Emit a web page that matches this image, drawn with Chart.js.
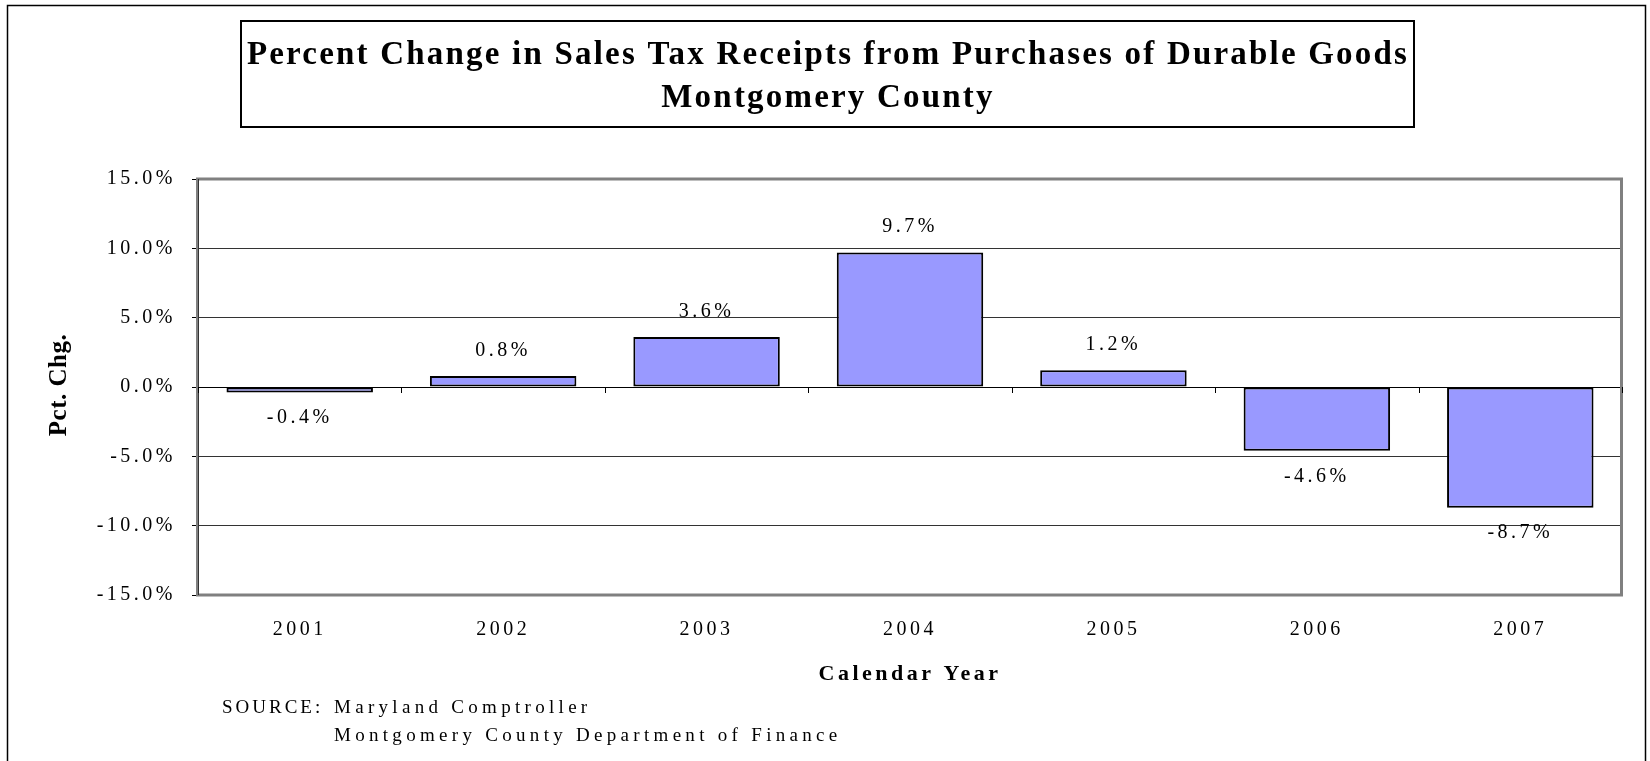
<!DOCTYPE html>
<html><head><meta charset="utf-8">
<script src="https://cdn.jsdelivr.net/npm/chart.js@4.4.1/dist/chart.umd.min.js"></script>
<style>html,body{margin:0;padding:0;background:#fff;overflow:hidden}#wrap{width:1650px;height:761px;position:relative}</style>
</head><body><div id="wrap"><canvas id="c" width="1650" height="761"></canvas></div>
<script>
// ---- data ----
const categories = ['2001', '2002', '2003', '2004', '2005', '2006', '2007'];
const pctChange = [-0.4, 0.8, 3.6, 9.7, 1.2, -4.6, -8.7];
const yTickValues = [-15, -10, -5, 0, 5, 10, 15];
const titleLines = ['Percent Change in Sales Tax Receipts from Purchases of Durable Goods', 'Montgomery County'];
const xTitle = 'Calendar Year';
const yTitle = 'Pct. Chg.';
const sourceLabel = 'SOURCE:';
const sourceLines = ['Maryland Comptroller', 'Montgomery County Department of Finance'];

const FONT = "'Liberation Serif','Times New Roman',Times,serif";
const fmtPct = v => v.toFixed(1) + '%';

const decor = {
  id: 'decor',
  beforeDraw(chart) { chart.ctx.letterSpacing = '3.5px'; },
  afterDatasetsDraw(chart) {
    const ctx = chart.ctx;
    const meta = chart.getDatasetMeta(0);
    ctx.save();
    ctx.font = '20px ' + FONT;
    ctx.fillStyle = '#000';
    ctx.textAlign = 'center';
    ctx.textBaseline = 'middle';
    ctx.letterSpacing = '3.5px';
    meta.data.forEach((el, i) => {
      const v = pctChange[i];
      const y = v >= 0 ? el.y - 25.5 : el.y + 25.5;
      ctx.fillText(fmtPct(v), el.x, y);
    });
    ctx.restore();
  },
  afterDraw(chart) {
    const ctx = chart.ctx;
    const ca = chart.chartArea;
    const xs = chart.scales.x, ys = chart.scales.y;
    ctx.save();
    // plot frame
    ctx.strokeStyle = '#808080';
    ctx.lineWidth = 3;
    ctx.strokeRect(ca.left - 0.5, ca.top, ca.right - ca.left, ca.bottom - ca.top);
    ctx.strokeStyle = '#333';
    ctx.lineWidth = 1;
    ctx.beginPath(); ctx.moveTo(ca.left + 0.5, ca.top); ctx.lineTo(ca.left + 0.5, ca.bottom); ctx.stroke();
    // category tick marks on zero line
    const y0 = ys.getPixelForValue(0);
    const half = (xs.getPixelForValue(1) - xs.getPixelForValue(0)) / 2;
    ctx.strokeStyle = '#000';
    ctx.lineWidth = 1;
    ctx.beginPath();
    for (let i = 0; i <= categories.length; i++) {
      const x = Math.round(xs.getPixelForValue(0) - half + i * 2 * half) + 0.5;
      ctx.moveTo(x, Math.round(y0)); ctx.lineTo(x, Math.round(y0) + 6);
    }
    ctx.stroke();
    // outer frame
    ctx.strokeStyle = '#000';
    ctx.lineWidth = 1.5;
    ctx.beginPath();
    ctx.moveTo(7.5, 761); ctx.lineTo(7.5, 5.5); ctx.lineTo(1645.5, 5.5); ctx.lineTo(1645.5, 761);
    ctx.stroke();
    // title box
    ctx.lineWidth = 2;
    ctx.strokeRect(241, 21, 1173, 106);
    ctx.fillStyle = '#000';
    ctx.textAlign = 'center';
    ctx.textBaseline = 'alphabetic';
    ctx.font = 'bold 33px ' + FONT;
    ctx.letterSpacing = '2.2px';
    ctx.fillText(titleLines[0], 828, 63.5);
    ctx.fillText(titleLines[1], 828, 106.5);
    // y axis title
    ctx.save();
    ctx.translate(60, 385);
    ctx.rotate(-Math.PI / 2);
    ctx.font = 'bold 25px ' + FONT;
    ctx.letterSpacing = '0.5px';
    ctx.textBaseline = 'middle';
    ctx.fillText(yTitle, 0, 0);
    ctx.restore();
    // source
    ctx.font = '19px ' + FONT;
    ctx.textAlign = 'left';
    ctx.letterSpacing = '3px';
    ctx.fillText(sourceLabel, 222, 713);
    ctx.letterSpacing = '4.3px';
    ctx.fillText(sourceLines[0], 334, 713);
    ctx.fillText(sourceLines[1], 334, 740.5);
    ctx.restore();
  }
};

Chart.defaults.font.family = FONT;
Chart.defaults.color = '#000';

new Chart(document.getElementById('c'), {
  type: 'bar',
  data: {
    labels: categories,
    datasets: [{
      data: pctChange,
      backgroundColor: '#9999FF',
      borderColor: '#000',
      borderWidth: 2,
      borderSkipped: false,
      barPercentage: 0.72,
      categoryPercentage: 1.0
    }]
  },
  options: {
    responsive: false,
    animation: false,
    devicePixelRatio: 1,
    layout: { padding: { top: 179, right: 28, bottom: 56, left: 0 } },
    plugins: { legend: { display: false }, tooltip: { enabled: false }, title: { display: false } },
    events: [],
    scales: {
      x: {
        grid: { display: false, drawTicks: false },
        border: { display: false },
        ticks: { font: { size: 20 }, color: '#000', padding: 22.5, maxRotation: 0, autoSkip: false },
        title: { display: true, text: xTitle, color: '#000', font: { size: 22, weight: 'bold' }, padding: { top: 0, bottom: 17 } },
        afterFit(scale) { scale.height = 110; }
      },
      y: {
        min: -15, max: 15,
        afterBuildTicks(scale) { scale.ticks = yTickValues.map(v => ({ value: v })); },
        grid: {
          color: c => (c.tick && c.tick.value === 0) ? '#000' : '#333',
          tickColor: '#000',
          tickLength: 6,
          lineWidth: 1
        },
        border: { display: false },
        ticks: { font: { size: 20 }, color: '#000', padding: 16, callback: v => fmtPct(v) },
        title: { display: false },
        afterFit(scale) { scale.width = 198; }
      }
    }
  },
  plugins: [decor]
});
</script>
</body></html>
